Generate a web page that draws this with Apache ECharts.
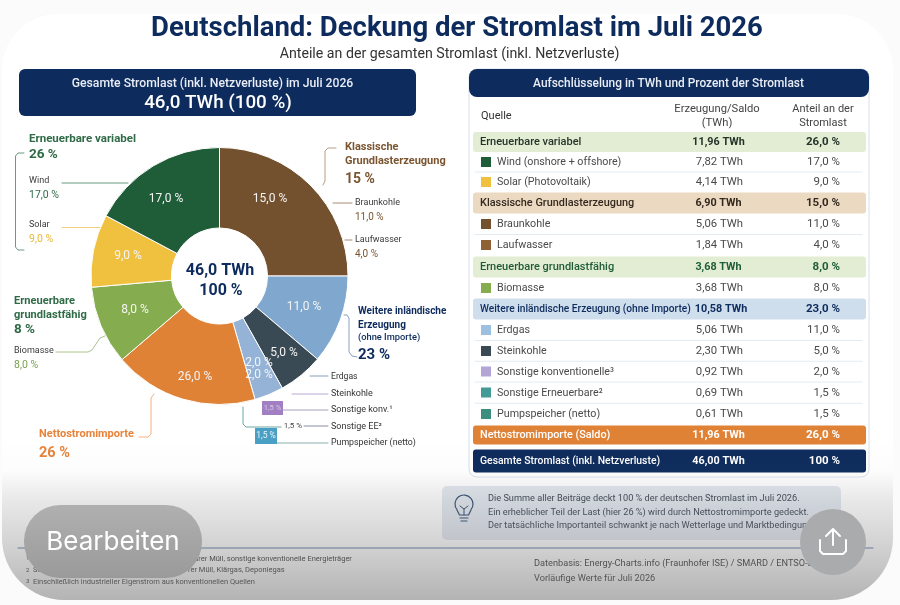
<!DOCTYPE html>
<html lang="de"><head><meta charset="utf-8">
<style>html,body{margin:0;padding:0;background:#fbfbfb}#c{width:900px;height:605px;filter:blur(0.4px)}</style>
<script src="https://cdn.jsdelivr.net/npm/echarts@6/dist/echarts.min.js"></script>
</head><body><div id="c"></div>
<script>
const FONT = 'Roboto, sans-serif';
const NAVY = '#0d2b5c';

// Pie slices as drawn in the reference (clockwise from 12 o'clock)
const sliceNames = ['Klassische Grundlast', 'Erdgas', 'Steinkohle', 'Sonstige konventionell', 'Nettostromimporte', 'Biomasse', 'Solar', 'Wind'];
const sliceArcDegrees = [90, 40.3, 20.4, 13.2, 65.4, 35.6, 33, 62];
const sliceLabels = ['15,0 %', '11,0 %', '5,0 %', '2,0 %\n2,0 %', '26,0 %', '8,0 %', '9,0 %', '17,0 %'];
const sliceColors = ['#74512e', '#80a8cf', '#3a4a55', '#94b3d6', '#e08236', '#85ad4f', '#efc13f', '#1f5c38'];
const sliceLabelCentres = [[270,199],[304,307],[284,353],[259,369],[195,377],[135,310],[128,256],[166,199]];

// Table
const rowNames = ['Erneuerbare variabel','Wind (onshore + offshore)','Solar (Photovoltaik)','Klassische Grundlasterzeugung','Braunkohle','Laufwasser','Erneuerbare grundlastfähig','Biomasse','Weitere inländische Erzeugung (ohne Importe)','Erdgas','Steinkohle','Sonstige konventionelle³','Sonstige Erneuerbare²','Pumpspeicher (netto)','Nettostromimporte (Saldo)','Gesamte Stromlast (inkl. Netzverluste)'];
const rowTwh = ['11,96 TWh','7,82 TWh','4,14 TWh','6,90 TWh','5,06 TWh','1,84 TWh','3,68 TWh','3,68 TWh','10,58 TWh','5,06 TWh','2,30 TWh','0,92 TWh','0,69 TWh','0,61 TWh','11,96 TWh','46,00 TWh'];
const rowShare = ['26,0 %','17,0 %','9,0 %','15,0 %','11,0 %','4,0 %','8,0 %','8,0 %','23,0 %','11,0 %','5,0 %','2,0 %','1,5 %','1,5 %','26,0 %','100 %'];
const rowSwatch = [null,'#1f5c38','#efc13f',null,'#74512e','#8f6236',null,'#85ad4f',null,'#9dbfe0','#3a4a55','#b3a5d6','#449a94','#3c8f7f',null,null];
const rowBand = ['#e3edd3',null,null,'#ecd9c2',null,null,'#e3edd3',null,'#cfdeed',null,null,null,null,null,'#e08236',NAVY];
const rowText = ['#26332a',null,null,'#33291e',null,null,'#1f5c38',null,'#0d2b5c',null,null,null,null,null,'#fff','#fff'];

// Layout of the rows (centre y, height, name font size)
const rowCentreY = [142,162,182,203,224,245,267,288,309,330,351,371.5,392.5,414,435,461];
const rowBandH = [20,0,0,21,0,0,21,0,21,0,0,0,0,0,19,23];
const rowNameSize = [11,0,0,10.9,0,0,11,0,10.2,0,0,0,0,0,10.8,10.4];

const noteLines = ['Die Summe aller Beiträge deckt 100 % der deutschen Stromlast im Juli 2026.','Ein erheblicher Teil der Last (hier 26 %) wird durch Nettostromimporte gedeckt.','Der tatsächliche Importanteil schwankt je nach Wetterlage und Marktbedingungen.'];

const g = [];
function T(x, y, text, o) {
  o = o || {};
  g.push({ type:'text', z:o.z || 5, x, y, silent:true, style:{ text, fill:o.c || '#333',
    font:(o.w || 'normal') + ' ' + (o.s || 10) + 'px ' + (o.f || FONT), textAlign:o.a || 'left', textVerticalAlign:'middle' }});
}
function R(x, y, w, h, fill, r, o) {
  o = o || {};
  g.push({ type:'rect', z:o.z || 1, silent:true, shape:{x,y,width:w,height:h,r:r || 0}, style:{fill, stroke:o.stroke || null, lineWidth:o.lw || 0} });
}
function L(points, color, lw, z) {
  g.push({ type:'polyline', z:z || 3, silent:true, shape:{points, smooth:0}, style:{stroke:color, lineWidth:lw || 1, fill:null, lineCap:'round', lineJoin:'round'} });
}

// white page sheet
g.push({ type:'rect', z:0, silent:true, shape:{x:2,y:14,width:891,height:586,r:[56,56,62,62]}, style:{fill:'#ffffff'} });

// Title
T(457, 29.5, 'Deutschland: Deckung der Stromlast im Juli 2026', {s:27.5, w:'bold', c:NAVY, a:'center'});
T(449.5, 54, 'Anteile an der gesamten Stromlast (inkl. Netzverluste)', {s:14.2, c:'#333', a:'center'});

// Left header
R(19, 69, 397, 47, NAVY, 6);
T(212.5, 84, 'Gesamte Stromlast (inkl. Netzverluste) im Juli 2026', {s:12.2, w:500, c:'#e9eef6', a:'center'});
T(218, 103, '46,0 TWh (100 %)', {s:18.8, w:500, c:'#fff', a:'center'});

// Pie centre
T(220, 271, '46,0 TWh', {s:16, w:'bold', c:NAVY, a:'center', z:10});
T(221, 291, '100 %', {s:16, w:'bold', c:NAVY, a:'center', z:10});

// Annotations left
const GR = '#2f6b47', YE = '#e8b93a', BR = '#7a5530', OR = '#e8833a', LG = '#77a04d', TXT = '#3a3a3a';
T(29, 139, 'Erneuerbare variabel', {s:11.5, w:'bold', c:GR});
T(29, 155, '26 %', {s:13.5, w:'bold', c:GR});
L([[24,153],[18,153],[15.5,156],[15.5,247],[18,250],[24,250]], '#6a9a80');
T(29, 181, 'Wind', {s:9, c:TXT});
T(29, 195, '17,0 %', {s:10.5, c:GR});
L([[62,183],[128,183]], '#6a9a80');
T(29, 225, 'Solar', {s:9, c:TXT});
T(29, 239, '9,0 %', {s:10.5, c:YE});
L([[62,227.5],[100,227.5]], '#f0d080');
T(14, 301, 'Erneuerbare', {s:11.1, w:'bold', c:GR});
T(14, 315, 'grundlastfähig', {s:11.1, w:'bold', c:GR});
T(14, 330, '8 %', {s:13.5, w:'bold', c:GR});
T(14, 351, 'Biomasse', {s:9, c:TXT});
T(14, 365, '8,0 %', {s:10.5, c:LG});
L([[56,352],[88,352],[92,350],[100,338],[105,336]], '#a9c48a');
T(39, 434, 'Nettostromimporte', {s:11, w:'bold', c:OR});
T(39, 453, '26 %', {s:14.5, w:'bold', c:OR});
L([[139,437],[148,437],[151,434],[151,398],[154,394]], '#f2b183');

// Annotations right
T(345, 147, 'Klassische', {s:11, w:'bold', c:BR});
T(345, 161, 'Grundlasterzeugung', {s:11, w:'bold', c:BR});
T(345, 179, '15 %', {s:14, w:'bold', c:BR});
L([[336,148],[328,148],[325,151],[325,181],[323,185]], '#b89c80');
L([[333,203],[352,203]], '#a88c70');
T(355, 203, 'Braunkohle', {s:9, c:TXT});
T(355, 217, '11,0 %', {s:10, c:BR});
L([[345,240],[352,240]], '#a88c70');
T(355, 240, 'Laufwasser', {s:9, c:TXT});
T(355, 254, '4,0 %', {s:10, c:BR});
T(358, 311, 'Weitere inländische', {s:10, w:'bold', c:NAVY});
T(358, 325, 'Erzeugung', {s:10, w:'bold', c:NAVY});
T(358, 338, '(ohne Importe)', {s:9.3, w:500, c:NAVY});
T(358, 355, '23 %', {s:15, w:'bold', c:NAVY});
L([[344,315],[347,315],[349,318],[349,352],[352,356],[357,357]], '#8aa0c0');
const LBL = '#333';
L([[310,376],[328,376]], '#8aa0b8'); T(331, 377, 'Erdgas', {s:8.6, c:LBL});
L([[292,394],[328,394]], '#b8a8d0'); T(331, 394, 'Steinkohle', {s:9, c:LBL});
L([[278,402],[278,410]], '#a58cc8');
L([[283,410],[328,410]], '#a8a0c0'); T(331, 410, 'Sonstige konv.¹', {s:9, c:LBL});
R(262, 401, 21, 14, '#a17fc2', 0, {z:4});
T(272.5, 408, '1,5 %', {s:7.5, c:'#d8c8ea', a:'center'});
L([[243,407],[243,424],[246,427],[281,427]], '#6aa6a6');
T(293, 426, '1,5 %', {s:8, c:'#444', a:'center'});
L([[304,426],[328,426]], '#8a90a8'); T(331, 427, 'Sonstige EE²', {s:9, c:LBL});
L([[277,443],[328,443]], '#8ab0b0'); T(331, 443, 'Pumpspeicher (netto)', {s:8.8, c:LBL});
R(255, 428, 22, 16, '#4aa0c4', 0, {z:4});
T(266, 436, '1,5 %', {s:8.5, c:'#e8f4fa', a:'center'});

// Table card
R(469, 69, 400, 408, '#ffffff', 8, {stroke:'#d8e0ea', lw:1});
R(469, 69, 400, 28, NAVY, 8, {z:2});
T(668.5, 84, 'Aufschlüsselung in TWh und Prozent der Stromlast', {s:11.9, w:500, c:'#e9eef6', a:'center'});
T(481, 116, 'Quelle', {s:11, c:'#333'});
T(717, 109, 'Erzeugung/Saldo', {s:11.2, c:'#444', a:'center'});
T(717, 123, '(TWh)', {s:11.2, c:'#444', a:'center'});
T(823, 109, 'Anteil an der', {s:11, c:'#444', a:'center'});
T(823, 123, 'Stromlast', {s:11, c:'#444', a:'center'});

rowNames.forEach(function (name, i) {
  const y = rowCentreY[i], band = rowBand[i];
  if (band) {
    const h = rowBandH[i];
    R(473, y - h / 2, 393, h, band, 3, {z:2});
    const c = rowText[i];
    T(480, y + 0.5, name, {s:rowNameSize[i], w:500, c});
    T(i === 8 ? 721 : 718.5, y + 0.5, rowTwh[i], {s:10.8, w:'bold', c, a:'center'});
    T(840, y + 0.5, rowShare[i], {s:11.5, w:'bold', c, a:'right'});
  } else {
    R(481, y - 5, 10, 10, rowSwatch[i], 0, {z:2});
    T(497, y + 0.5, name, {s:10.7, c:'#4a4a4a'});
    T(743, y + 0.5, rowTwh[i], {s:11.3, c:'#4a4a4a', a:'right'});
    T(840, y + 0.5, rowShare[i], {s:11.5, c:'#4a4a4a', a:'right'});
    if (!rowBand[i + 1]) L([[475, (y + rowCentreY[i + 1]) / 2],[862, (y + rowCentreY[i + 1]) / 2]], '#e4eaf2', 1, 2);
  }
});

// Note box with a light bulb
R(442, 486, 399, 54, '#e2e8f0', 5);
noteLines.forEach(function (s, i) { T(488, 499 + i * 13.5, s, {s:9.2, c:'#3b4350'}); });
const BULB = '#2f4a70';
g.push({ type:'arc', z:5, silent:true, shape:{cx:464,cy:504,r:9,startAngle:Math.PI * 0.78,endAngle:Math.PI * 2.22,clockwise:true}, style:{stroke:BULB,lineWidth:1.2,fill:null} });
L([[457,510],[459.5,515],[468.5,515],[471,510]], BULB, 1.2, 5);
L([[460,518],[468,518]], BULB, 1.2, 5);
L([[461,521],[467,521]], BULB, 1.2, 5);
L([[460,506],[464,509],[468,506]], BULB, 1, 5);
L([[464,509],[464,515]], BULB, 1, 5);

// Footer
L([[18,548],[873,548]], '#5b7aa8', 1, 1);
T(26, 558, '1', {s:6, c:'#333'});
T(190, 559, 'barer Müll, sonstige konventionelle Energieträger', {s:7.5, c:'#333'});
T(26, 570, '2', {s:6, c:'#333'});
T(33, 570.5, 'So', {s:7.5, c:'#333'});
T(188, 570.5, 'rer Müll, Klärgas, Deponiegas', {s:7.5, c:'#333'});
T(26, 581, '3', {s:6, c:'#333'});
T(33, 582, 'Einschließlich industrieller Eigenstrom aus konventionellen Quellen', {s:7.5, c:'#333'});
T(534, 564, 'Datenbasis: Energy-Charts.info (Fraunhofer ISE) / SMARD / ENTSO-E', {s:9.2, c:'#333'});
T(534, 579, 'Vorläufige Werte für Juli 2026', {s:9.2, c:'#333'});

// Bottom fade of the screenshot
g.push({ type:'rect', z:30, silent:true, shape:{x:2,y:440,width:891,height:160,r:[0,0,62,62]},
  style:{ fill:{ type:'linear', x:0, y:0, x2:0, y2:1, colorStops:[{offset:0,color:'rgba(120,120,120,0)'},{offset:0.19,color:'rgba(120,120,120,0.02)'},{offset:0.375,color:'rgba(120,120,120,0.17)'},{offset:0.656,color:'rgba(120,120,120,0.33)'},{offset:1,color:'rgba(120,120,120,0.56)'}] } } });

// Overlaid buttons
g.push({ type:'rect', z:40, silent:true, shape:{x:24,y:505,width:178,height:73,r:36}, style:{ fill:{ type:'linear', x:0, y:0, x2:0, y2:1, colorStops:[{offset:0,color:'#b0b0b0'},{offset:1,color:'#9a9a9a'}] } } });
T(113, 542, 'Bearbeiten', {s:26, c:'#fff', a:'center', z:41, f:'Inter, Roboto, sans-serif'});
g.push({ type:'circle', z:40, silent:true, shape:{cx:833,cy:542,r:33}, style:{fill:'#a9abac'} });
L([[820,540],[820,551],[823,554],[843,554],[846,551],[846,540]], '#fff', 2, 41);
L([[833,545],[833,530]], '#fff', 2, 41);
L([[826,536],[833,529],[840,536]], '#fff', 2, 41);

const chart = echarts.init(document.getElementById('c'), null, {renderer:'canvas', width:900, height:605});
chart.setOption({
  animation:false,
  backgroundColor:'#fbfbfb',
  series:[{
    type:'pie', center:[219.5,276], radius:[48,128.5], startAngle:90, clockwise:true, silent:true,
    avoidLabelOverlap:false, minAngle:0,
    itemStyle:{borderColor:'#fff', borderWidth:1},
    labelLine:{show:false},
    label:{show:true, position:'inside', color:'#f4f4f4', fontFamily:FONT, fontSize:12, lineHeight:12,
      formatter:function(p){ return sliceLabels[p.dataIndex]; }},
    labelLayout:function(p){ const c = sliceLabelCentres[p.dataIndex]; return {x:c[0], y:c[1], align:'center', verticalAlign:'middle'}; },
    data:sliceNames.map(function(name,i){ return {name, value:sliceArcDegrees[i], itemStyle:{color:sliceColors[i]}}; })
  }],
  graphic:{elements:g}
});
</script></body></html>
